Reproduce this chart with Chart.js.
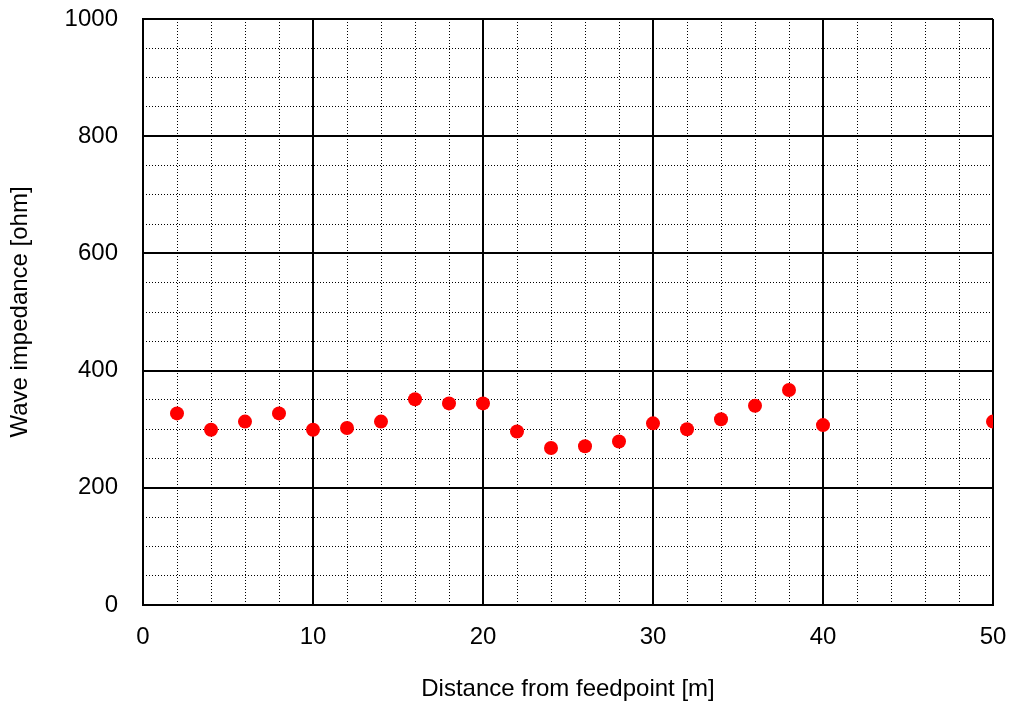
<!DOCTYPE html>
<html><head><meta charset="utf-8">
<script src="https://cdn.jsdelivr.net/npm/chart.js@4"></script>
<style>html,body{margin:0;padding:0;background:#fff}#wrap{width:1010px;height:706px}</style>
</head><body><div id="wrap"><canvas id="c" width="1010" height="706"></canvas></div>
<script>
const distances = [2,4,6,8,10,12,14,16,18,20,22,24,26,28,30,32,34,36,38,40,50];
const impedance = [327,299,313,327,299,302,313,351,344,344,296,268,271,279,310,300,317,340,367,307,313];
const xTicks = [0,10,20,30,40,50];
const yTicks = [0,200,400,600,800,1000];

const FONT = {family:'"Liberation Sans", Arial, sans-serif', size:24};
const points = distances.map((d,i)=>({x:d,y:impedance[i]}));

new Chart(document.getElementById('c'), {
  type:'scatter',
  data:{datasets:[{data:points, backgroundColor:'#ff0000', borderColor:'#ff0000', pointRadius:7, pointHoverRadius:7, borderWidth:0}]},
  options:{
    responsive:false, animation:false, devicePixelRatio:1,
    layout:{padding:{top:19,right:17,left:0,bottom:0}},
    plugins:{legend:{display:false}, tooltip:{enabled:false}},
    scales:{
      xm:{type:'linear', position:'bottom', min:0, max:50, ticks:{display:false, stepSize:2}, grid:{color:'#000', lineWidth:1, drawTicks:false}, border:{display:false, dash:[1,2]}, afterFit:s=>{s.height=0;s.paddingLeft=0;s.paddingRight=0;}},
      ym:{type:'linear', position:'left', min:0, max:1000, ticks:{display:false, stepSize:50}, grid:{color:'#000', lineWidth:1, drawTicks:false}, border:{display:false, dash:[1,2]}, afterFit:s=>{s.width=0;s.paddingTop=0;s.paddingBottom=0;}},
      x:{type:'linear', position:'bottom', min:0, max:50,
         afterBuildTicks:s=>{s.ticks=xTicks.map(v=>({value:v}));},
         ticks:{color:'#000', font:FONT, padding:18, callback:v=>String(v)},
         grid:{color:'#000', lineWidth:2, drawTicks:false},
         border:{color:'#000', width:2},
         title:{display:true, text:'Distance from feedpoint [m]', color:'#000', font:FONT, padding:{top:10,bottom:2}},
         afterFit:s=>{s.height=101;s.paddingLeft=0;s.paddingRight=0;}},
      y:{type:'linear', position:'left', min:0, max:1000,
         afterBuildTicks:s=>{s.ticks=yTicks.map(v=>({value:v}));},
         ticks:{color:'#000', font:FONT, padding:25, callback:v=>String(v)},
         grid:{color:'#000', lineWidth:2, drawTicks:false},
         border:{color:'#000', width:2},
         title:{display:true, text:'Wave impedance [ohm]', color:'#000', font:FONT, padding:{top:6,bottom:2}},
         afterFit:s=>{s.width=143;s.paddingTop=0;s.paddingBottom=0;}}
    }
  }
});
</script></body></html>
